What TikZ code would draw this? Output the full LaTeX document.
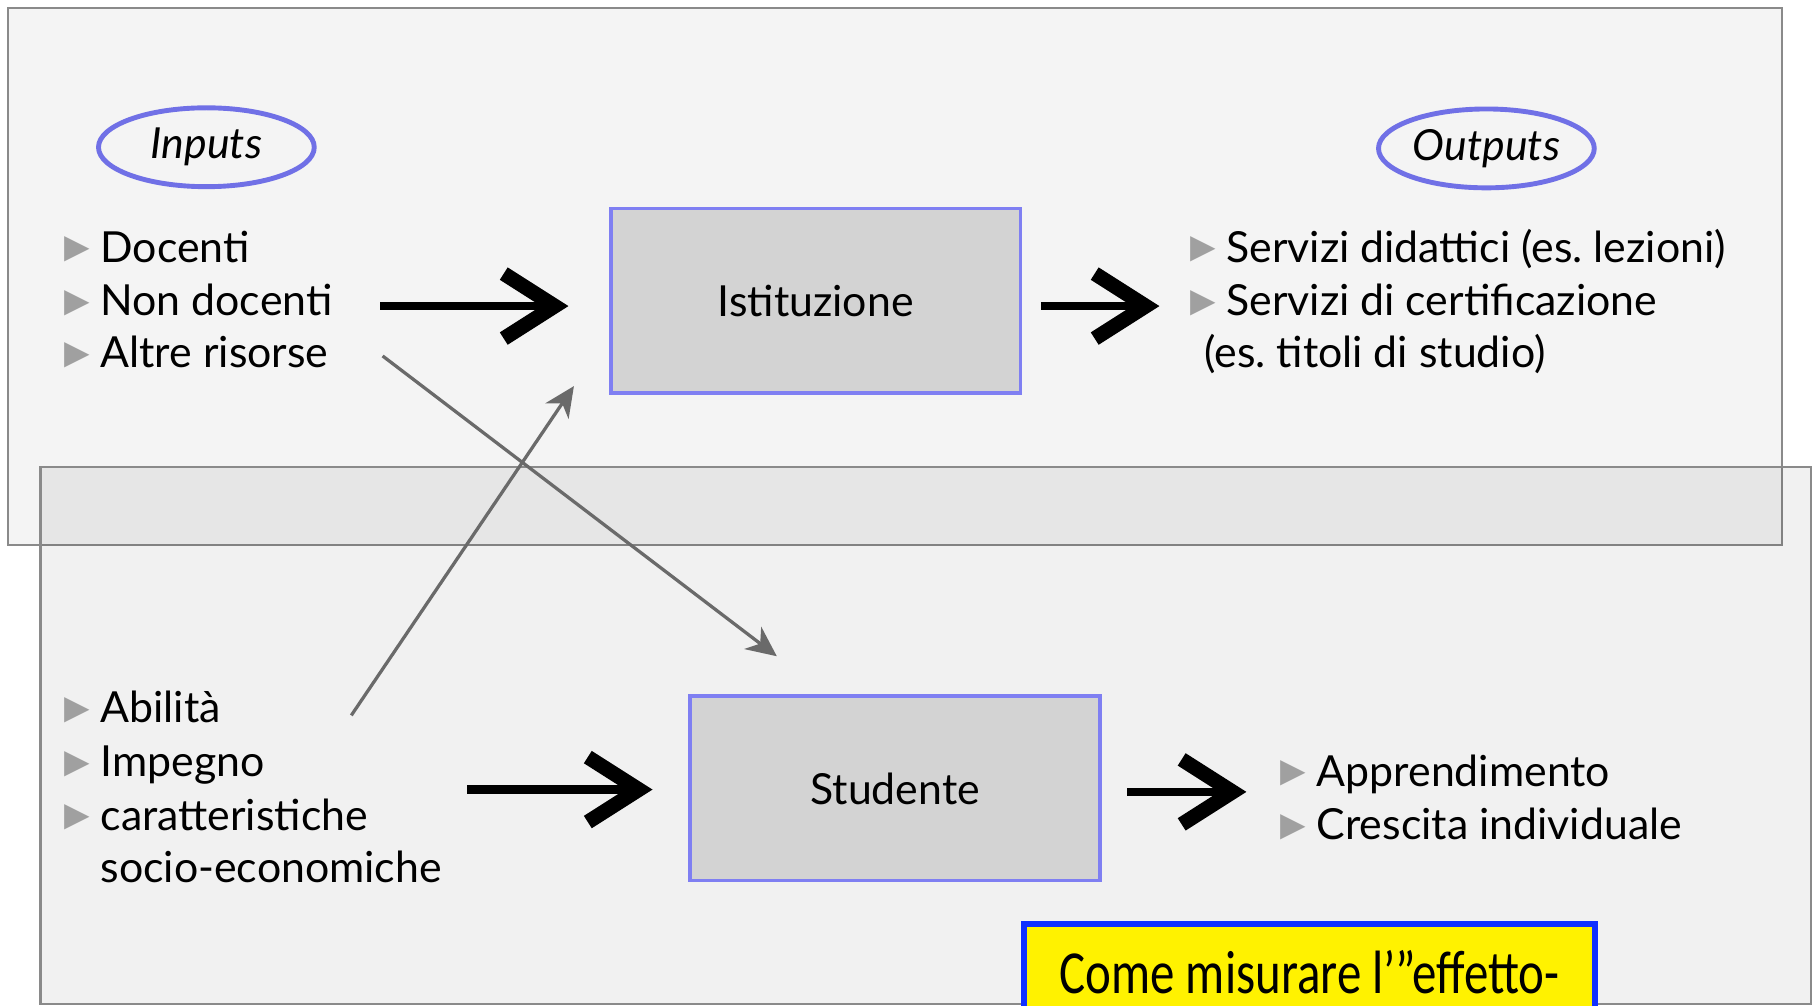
\documentclass[tikz,border=0pt]{standalone}
\usepackage{graphicx}
\usepackage{fontspec}
\setmainfont{Lato}
\newfontfamily\dejavu{DejaVu Sans}
\newfontfamily\calib{Carlito}
\usetikzlibrary{arrows.meta,shapes.geometric,calc}
\definecolor{panelA}{HTML}{F4F4F4}
\definecolor{panelline}{HTML}{8A8A8A}
\definecolor{boxfill}{HTML}{D3D3D3}
\definecolor{boxline}{HTML}{7F7FF2}
\definecolor{ellline}{HTML}{7070E6}
\definecolor{bulgray}{HTML}{A0A0A0}
\definecolor{arrgray}{HTML}{6A6A6A}
\definecolor{ybord}{HTML}{1030FF}
\newcommand\bul{\makebox[0.31cm][l]{\raisebox{-0.2pt}{\textcolor{bulgray}{\dejavu\fontsize{12.5}{12.5}\selectfont ▸}}}}
\begin{document}
\begin{tikzpicture}[x=0.01cm,y=-0.01cm,
  txt/.style={anchor=base west, inner sep=0pt, font=\fontsize{10.5}{13}\selectfont},
  procbox/.style={draw=boxline, fill=boxfill, line width=0.9pt, minimum width=3.53cm, minimum height=1.59cm, inner sep=0pt, font=\fontsize{10.5}{13}\selectfont},
  oval/.style={ellipse, draw=ellline, line width=1.2pt, minimum width=1.86cm, minimum height=0.68cm, inner sep=0pt, font=\itshape\fontsize{10.5}{13}\selectfont},
  bigarrow/.style={line width=2pt, -{Straight Barb[length=4.4mm,width=5.6mm,line width=3.6pt]}},
  thinarrow/.style={draw=arrgray, line width=0.8pt, -{Stealth[length=2.6mm,width=2.4mm,inset=0.8mm]}, color=arrgray},
  yboxshape/.style={fill=yellow, draw=ybord, line width=1.5pt},
  ytext/.style={anchor=base, inner sep=0pt, font=\calib\fontsize{15}{16}\selectfont}
]
\useasboundingbox (0,0) rectangle (1568,867);
\clip (0,0) rectangle (1568,867);
\fill[white] (0,0) rectangle (1568,867);
% panels
\draw[panelline, line width=0.6pt, fill=panelA] (7,7) rectangle (1537,470);
\path[fill=black, fill opacity=0.055] (35,403) rectangle (1562,866);
\draw[panelline, line width=0.6pt] (35,403) rectangle (1562,866);

% upper panel
\node[oval] (inputs) at (178,127) {Inputs};
\node[oval] (outputs) at (1282,128) {Outputs};
\node[txt] (doc) at (55,226) {\bul Docenti};
\node[txt] (nondoc) at (55,272) {\bul Non docenti};
\node[txt] (altre) at (55,317) {\bul Altre risorse};
\node[procbox] (ist) at (703.5,259.5) {Istituzione};
\node[txt] (serv1) at (1026,226) {\bul Servizi didattici (es.\ lezioni)};
\node[txt] (serv2) at (1026,272) {\bul Servizi di certificazione};
\node[txt] (serv3) at (1038,317) {(es.\ titoli di studio)};

% lower panel
\node[txt] (abil) at (55,623) {\bul Abilità};
\node[txt] (imp) at (55,670) {\bul Impegno};
\node[txt] (car) at (55,716) {\bul caratteristiche};
\node[txt] (soc) at (86,761) {socio-economiche};
\node[procbox] (stud) at (772,680) {Studente};
\node[txt] (app) at (1104,678) {\bul Apprendimento};
\node[txt] (cre) at (1104,724) {\bul Crescita individuale};

% gray cross arrows
\coordinate (g1s) at (330,307);
\coordinate (g1e) at (670,566);
\coordinate (g2s) at (303,617);
\coordinate (g2e) at (495,333);
\draw[thinarrow] (g1s) -- (g1e);
\draw[thinarrow] (g2s) -- (g2e);

% black arrows
\coordinate (a1s) at (328,264);
\coordinate (a2e) at (1000,264);
\coordinate (a3s) at (403,681);
\coordinate (a4e) at (1075,683);
\draw[bigarrow, shorten >=0.35cm] (a1s) -- (ist.west |- a1s);
\draw[bigarrow, shorten <=0.16cm] (ist.east |- a2e) -- (a2e);
\draw[bigarrow, shorten >=0.31cm] (a3s) -- (stud.west |- a3s);
\draw[bigarrow, shorten <=0.22cm] (stud.east |- a4e) -- (a4e);

% yellow box (runs off the bottom edge)
\path[yboxshape] (883,797) rectangle (1376,905);
\node[ytext] (q) at (1129.5,857) {\scalebox{0.8}[1]{Come misurare l’”effetto-}};
\end{tikzpicture}
\end{document}
